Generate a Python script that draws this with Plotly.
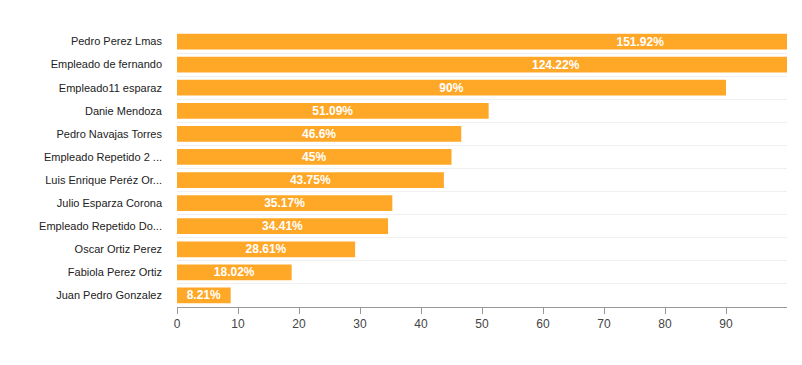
import plotly.graph_objects as go

names = [
    "Pedro Perez Lmas",
    "Empleado de fernando",
    "Empleado11 esparaz",
    "Danie Mendoza",
    "Pedro Navajas Torres",
    "Empleado Repetido 2 ...",
    "Luis Enrique Peréz Or...",
    "Julio Esparza Corona",
    "Empleado Repetido Do...",
    "Oscar Ortiz Perez",
    "Fabiola Perez Ortiz",
    "Juan Pedro Gonzalez",
]
# bar lengths
values = [151.92, 124.22, 90, 51.09, 46.6, 45, 43.75, 35.3, 34.6, 29.2, 18.8, 8.8]
labels = ["151.92%", "124.22%", "90%", "51.09%", "46.6%", "45%", "43.75%",
          "35.17%", "34.41%", "28.61%", "18.02%", "8.21%"]
x_ticks = [0, 10, 20, 30, 40, 50, 60, 70, 80, 90]

FONT = "Arial, 'Liberation Sans', sans-serif"

fig = go.Figure(go.Bar(
    x=values,
    y=names,
    orientation="h",
    marker=dict(color="#ffa726", line=dict(width=0)),
    width=0.68,
    text=labels,
    textposition="inside",
    insidetextanchor="middle",
    textangle=0,
    constraintext="none",
    textfont=dict(color="white", size=12, family=FONT, weight="bold"),
    cliponaxis=True,
    hoverinfo="skip",
))

fig.update_layout(
    width=802, height=365,
    margin=dict(l=169, r=23, t=22, b=66),
    paper_bgcolor="white", plot_bgcolor="white",
    font=dict(family=FONT),
    showlegend=False,
    bargap=0.32,
)
fig.update_xaxes(
    range=[0, 100],
    tickvals=x_ticks,
    ticktext=[str(v) for v in x_ticks],
    ticks="outside", ticklen=6, tickcolor="#999999", tickwidth=1,
    showline=True, linecolor="#999999", linewidth=1,
    showgrid=False, zeroline=False,
    tickfont=dict(size=12, color="#444444", family=FONT),
)
fig.update_yaxes(
    type="category",
    categoryorder="array", categoryarray=names,
    autorange="reversed",
    tickson="boundaries",
    ticks="", showgrid=True, gridcolor="#f0f0f0", gridwidth=1,
    showline=False, zeroline=False,
    ticklabelstandoff=14,
    tickfont=dict(size=11, color="#222222", family=FONT),
)

fig.write_html("out.html")
